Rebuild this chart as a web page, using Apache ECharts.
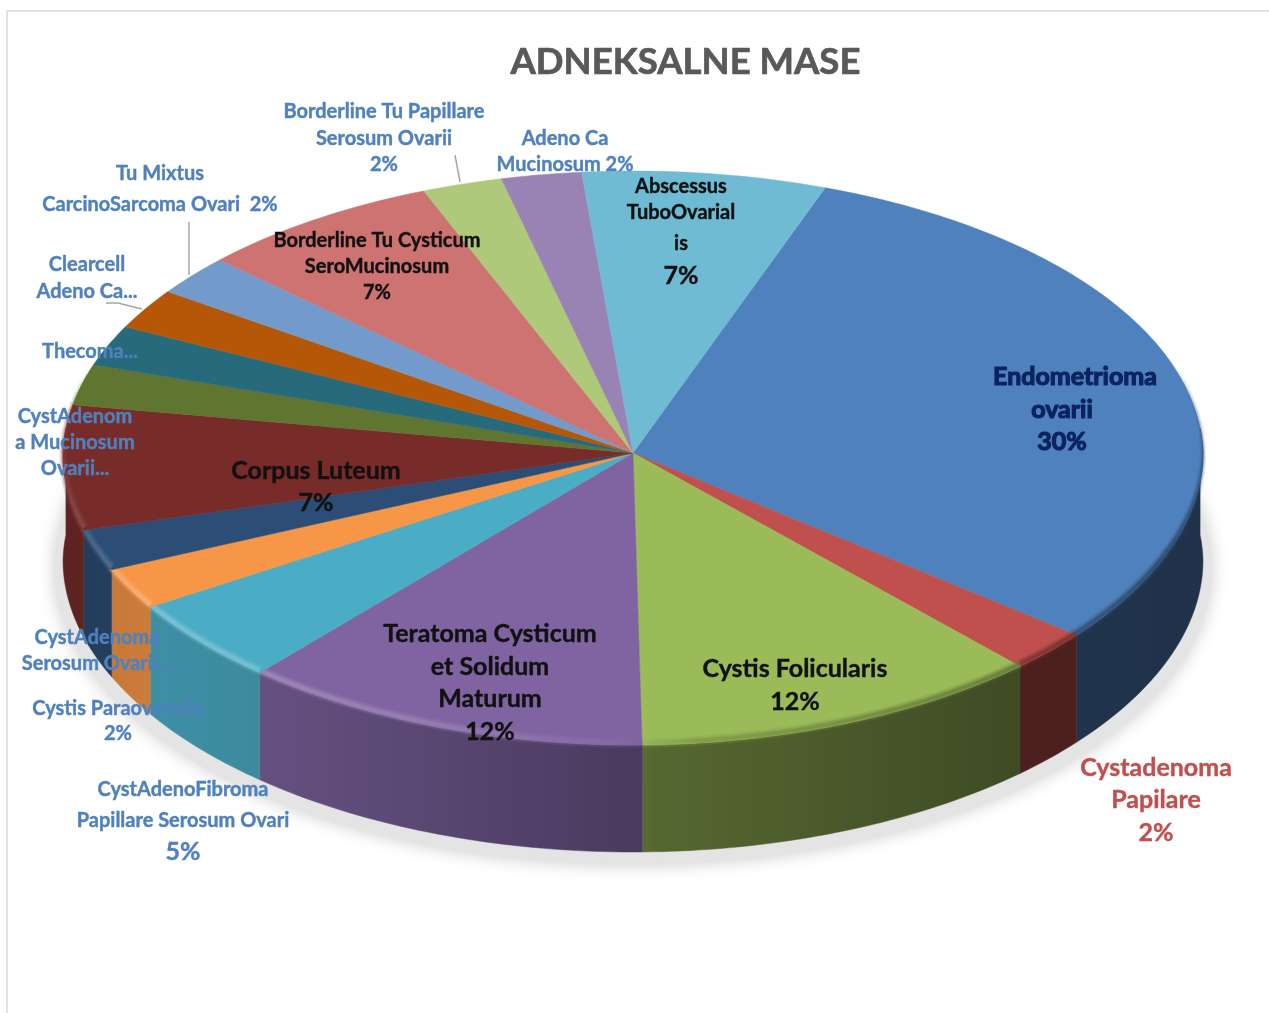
<!DOCTYPE html>
<html>
<head>
<meta charset="utf-8">
<title>ADNEKSALNE MASE</title>
<script src="https://cdn.jsdelivr.net/npm/echarts@6/dist/echarts.min.js"></script>
<style>
  html, body { margin: 0; padding: 0; background: #fff; overflow: hidden; }
  #chart { width: 1269px; height: 1013px; }
</style>
</head>
<body>
<div id="chart"></div>
<script>
// values, clockwise from the Endometrioma slice
var categories = ['Endometrioma ovarii', 'Cystadenoma Papilare', 'Cystis Folicularis',
  'Teratoma Cysticum et Solidum Maturum', 'CystAdenoFibroma Papillare Serosum Ovari',
  'Cystis Paraovarialis', 'CystAdenoma Serosum Ovarii', 'Corpus Luteum',
  'CystAdenoma Mucinosum Ovarii', 'Thecoma', 'Clearcell Adeno Ca',
  'Tu Mixtus CarcinoSarcoma Ovari', 'Borderline Tu Cysticum SeroMucinosum',
  'Borderline Tu Papillare Serosum Ovarii', 'Adeno Ca Mucinosum', 'Abscessus TuboOvarialis'];
var sliceValues = [30.2, 2.3, 11.6, 11.6, 4.7, 2.3, 2.3, 7.0, 2.3, 2.3, 2.3, 2.3, 7.0, 2.3, 2.3, 7.0];
var labelLines = [
  ['Endometrioma', 'ovarii', '30%'],
  ['Cystadenoma', 'Papilare', '2%'],
  ['Cystis Folicularis', '12%'],
  ['Teratoma Cysticum', 'et Solidum', 'Maturum', '12%'],
  ['CystAdenoFibroma', 'Papillare Serosum Ovari', '5%'],
  ['Cystis Paraovarialis', '2%'],
  ['CystAdenoma', 'Serosum Ovarii...'],
  ['Corpus Luteum', '7%'],
  ['CystAdenom', 'a Mucinosum', 'Ovarii...'],
  ['Thecoma...'],
  ['Clearcell', 'Adeno Ca...'],
  ['Tu Mixtus', 'CarcinoSarcoma Ovari  2%'],
  ['Borderline Tu Cysticum', 'SeroMucinosum', '7%'],
  ['Borderline Tu Papillare', 'Serosum Ovarii', '2%'],
  ['Adeno Ca', 'Mucinosum 2%'],
  ['Abscessus', 'TuboOvarial', 'is', '7%']
];

// styling
var sliceColors = ['#4F81BD', '#C0504D', '#9BBB59', '#8064A2', '#4BACC6', '#F79646', '#2C4D75', '#772C2A',
  '#5F7530', '#276A7C', '#B65708', '#729ACA', '#CD7371', '#AFC97A', '#9983B5', '#6FBBD3'];
var labelX = [1062, 1156, 795, 490, 183, 118, 97, 316, 75, 90, 87, 160, 377, 384, 565, 681];
var labelY = [
  [376, 409, 441], [767, 799, 832], [668, 701], [633, 666, 698, 731], [789, 820, 851],
  [708, 733], [637, 663], [470, 502], [416, 442, 468], [351], [264, 291], [173, 204],
  [240, 266, 292], [111, 138, 164], [138, 164], [186, 212, 243, 275]
];
var labelSize = [
  [25, 25, 25], [25, 25, 25], [25, 25], [25, 25, 25, 25], [20, 20, 25],
  [20, 20], [20, 20], [25, 25], [20, 20, 20], [20], [20, 20], [20, 20],
  [20, 20, 20], [20, 20, 20], [20, 20], [20, 20, 20, 25]
];
var labelColor = ['#0B2460', '#C0504D', '#111', '#111', '#4F81BD', '#4F81BD', '#4F81BD', '#111',
  '#4F81BD', '#4F81BD', '#4F81BD', '#4F81BD', '#111', '#4F81BD', '#4F81BD', '#111'];

var fontFamily = 'Lato, "Open Sans", sans-serif';
var cx = 633, cy = 453, rx = 570, ry = 287, depth = 107;
var startAngle = 20; // degrees clockwise from the top

var total = sliceValues.reduce(function (a, b) { return a + b; }, 0);

function point(deg, dy) {
  var a = deg * Math.PI / 180;
  var c = Math.cos(a);
  // slight perspective, the back of the disc is a bit smaller than the front
  var s = 1 - 0.0175 * c;
  var sx = c > 0 ? 1 - 0.015 * c : 1;
  return [cx + rx * Math.sin(a) * sx, cy - ry * c * s + (dy || 0)];
}

function arc(from, to, dy) {
  var pts = [];
  var n = Math.max(2, Math.ceil(Math.abs(to - from)));
  for (var i = 0; i <= n; i++) {
    pts.push(point(from + (to - from) * i / n, dy));
  }
  return pts;
}

function sliceAngles(index) {
  var before = 0;
  for (var i = 0; i < index; i++) before += sliceValues[i];
  return [startAngle + before / total * 360, startAngle + (before + sliceValues[index]) / total * 360];
}

function rgb(hex) {
  return [parseInt(hex.substr(1, 2), 16), parseInt(hex.substr(3, 2), 16), parseInt(hex.substr(5, 2), 16)];
}
function shade(hex, f) {
  var c = rgb(hex).map(function (v) {
    return Math.round(f <= 1 ? v * f : v + (255 - v) * (f - 1));
  });
  return 'rgb(' + c.join(',') + ')';
}
function xGradient(hex, stops) {
  return {
    type: 'linear', x: 62, y: 0, x2: 1203, y2: 0, global: true,
    colorStops: stops.map(function (s) {
      return { offset: (s[0] - 62) / (1203 - 62), color: shade(hex, s[1]) };
    })
  };
}

// side wall of the disc gets darker from left to right
var wallShade = [[62, 0.78], [160, 0.83], [260, 0.8], [640, 0.58], [660, 0.55], [1020, 0.4], [1203, 0.39]];
// bevel along the rim, light on the left, dark on the right
var rimShade = [[62, 1.1], [160, 1.3], [420, 1.2], [620, 1.04], [700, 0.8], [1020, 0.62], [1203, 0.5]];

function rimStrength(deg) {
  // fades out towards the back of the disc on both sides
  var r = Math.min(1, Math.max(0, (deg - 72) / 40));
  var l = Math.min(1, Math.max(0, (288 - deg) / 30));
  return Math.min(r, l);
}

function renderWall(params, api) {
  var i = api.value(0);
  var ang = sliceAngles(i);
  var from = Math.max(ang[0], 85), to = Math.min(ang[1], 275);
  if (to <= from) return { type: 'group', children: [] };
  var fill = xGradient(sliceColors[i], wallShade);
  return {
    type: 'polygon',
    silent: true,
    shape: { points: arc(from, to).concat(arc(to, from, depth)) },
    style: { fill: fill, stroke: fill, lineWidth: 0.5 }
  };
}

function renderTop(params, api) {
  var i = api.value(0);
  var ang = sliceAngles(i);
  var children = [{
    type: 'polygon',
    silent: true,
    shape: { points: [[cx, cy]].concat(arc(ang[0], ang[1])) },
    style: { fill: sliceColors[i], stroke: sliceColors[i], lineWidth: 0.5 }
  }];
  var from = Math.max(ang[0], 72), to = Math.min(ang[1], 288);
  var stroke = xGradient(sliceColors[i], rimShade);
  for (var a = from; a < to; a += 2) {
    var end = Math.min(a + 2, to);
    var strength = rimStrength((a + end) / 2);
    [[10, 0.2], [6.5, 0.35], [3.5, 0.6]].forEach(function (layer) {
      children.push({
        type: 'polyline',
        silent: true,
        shape: { points: arc(a, end, -2.5) },
        style: { fill: 'none', stroke: stroke, lineWidth: layer[0] * (0.4 + 0.6 * strength), opacity: layer[1] * strength, lineCap: 'butt' }
      });
    });
  }
  return { type: 'group', children: children };
}

function renderLabel(params, api) {
  var i = api.value(0);
  var children = labelLines[i].map(function (line, j) {
    var style = {
      text: line,
      // first line of the big slice sits off centre in the picture
      x: labelX[i] + (i === 0 && j === 0 ? 13 : 0),
      y: labelY[i][j] + 1,
      fill: labelColor[i],
      stroke: labelColor[i],
      lineWidth: i === 0 ? 1.2 : 0.4,
      font: 'bold ' + labelSize[i][j] + 'px ' + fontFamily,
      align: 'center',
      verticalAlign: 'middle'
    };
    if (i === 0) {
      style.shadowColor = 'rgba(60,60,60,0.8)';
      style.shadowBlur = 1;
      style.shadowOffsetX = 1.5;
      style.shadowOffsetY = 1.5;
    }
    return { type: 'text', silent: true, style: style };
  });
  return { type: 'group', children: children };
}

var sliceData = sliceValues.map(function (v, i) {
  return { name: categories[i], value: [i, v] };
});

function leader(points) {
  return {
    type: 'polyline', silent: true, z: 20,
    shape: { points: points },
    style: { fill: 'none', stroke: '#A6A6A6', lineWidth: 1.5 }
  };
}

var myChart = echarts.init(document.getElementById('chart'), null, { renderer: 'canvas' });
myChart.setOption({
  backgroundColor: '#fff',
  animation: false,
  title: {
    text: 'ADNEKSALNE MASE',
    left: 505.5,
    top: 39,
    textStyle: {
      color: '#595959', fontFamily: fontFamily, fontWeight: 'bold', fontSize: 36.5,
      textBorderColor: '#595959', textBorderWidth: 0.7
    }
  },
  graphic: [
    // outer chart frame, cut off at the right and bottom of the page
    { type: 'polyline', silent: true, z: -10,
      shape: { points: [[7, 1013], [7, 11], [1269, 11]] },
      style: { fill: 'none', stroke: '#D9D9D9', lineWidth: 1.5 } },
    // soft shadow under the disc
    { type: 'ellipse', silent: true, z: -5,
      shape: { cx: 633, cy: 568, rx: 578, ry: 296 },
      style: { fill: '#E4E4E4', shadowBlur: 18, shadowColor: 'rgba(0,0,0,0.22)' } },
    leader([[189, 222], [189, 275]]),
    leader([[106, 303], [118, 303], [142, 309]]),
    leader([[455, 155], [460, 182]])
  ],
  series: [
    { type: 'custom', coordinateSystem: 'none', data: sliceData, renderItem: renderWall, z: 2, clip: false },
    { type: 'custom', coordinateSystem: 'none', data: sliceData, renderItem: renderTop, z: 3, clip: false },
    { type: 'custom', coordinateSystem: 'none', data: sliceData, renderItem: renderLabel, z: 4, clip: false }
  ]
});
</script>
</body>
</html>
